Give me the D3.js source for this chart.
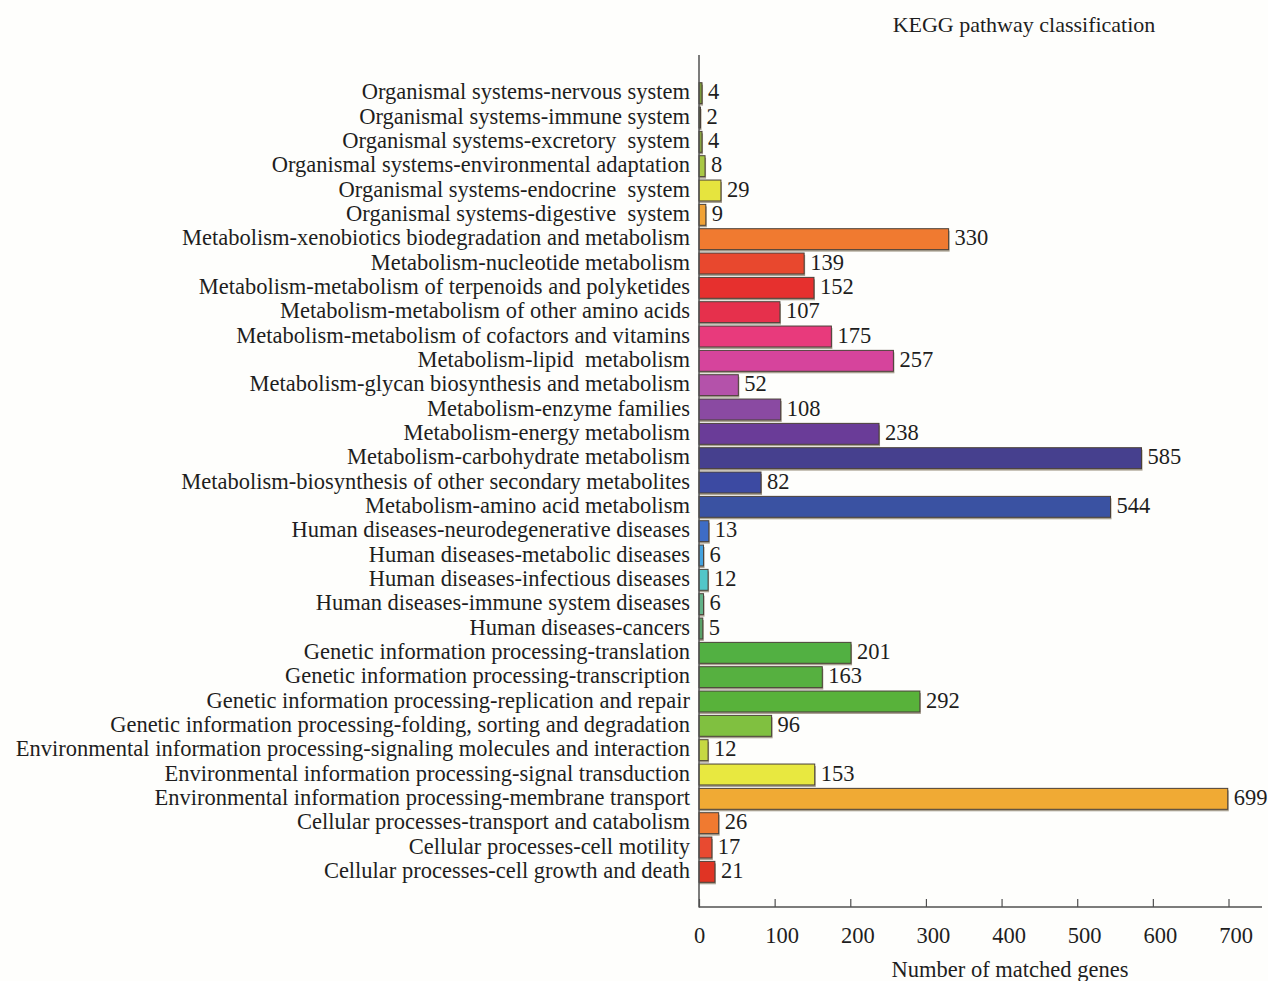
<!DOCTYPE html>
<html>
<head>
<meta charset="utf-8">
<script src="https://cdn.jsdelivr.net/npm/d3@7"></script>
<style>
  html, body { margin: 0; padding: 0; background: #fefefc; }
  svg { display: block; }
  text { font-family: "Liberation Serif", "Times New Roman", serif; fill: #1e1e1e; }
</style>
</head>
<body>
<svg id="chart" width="1268" height="981"></svg>
<script>
// KEGG pathway categories, listed top to bottom
const categories = [
  "Organismal systems-nervous system",
  "Organismal systems-immune system",
  "Organismal systems-excretory  system",
  "Organismal systems-environmental adaptation",
  "Organismal systems-endocrine  system",
  "Organismal systems-digestive  system",
  "Metabolism-xenobiotics biodegradation and metabolism",
  "Metabolism-nucleotide metabolism",
  "Metabolism-metabolism of terpenoids and polyketides",
  "Metabolism-metabolism of other amino acids",
  "Metabolism-metabolism of cofactors and vitamins",
  "Metabolism-lipid  metabolism",
  "Metabolism-glycan biosynthesis and metabolism",
  "Metabolism-enzyme families",
  "Metabolism-energy metabolism",
  "Metabolism-carbohydrate metabolism",
  "Metabolism-biosynthesis of other secondary metabolites",
  "Metabolism-amino acid metabolism",
  "Human diseases-neurodegenerative diseases",
  "Human diseases-metabolic diseases",
  "Human diseases-infectious diseases",
  "Human diseases-immune system diseases",
  "Human diseases-cancers",
  "Genetic information processing-translation",
  "Genetic information processing-transcription",
  "Genetic information processing-replication and repair",
  "Genetic information processing-folding, sorting and degradation",
  "Environmental information processing-signaling molecules and interaction",
  "Environmental information processing-signal transduction",
  "Environmental information processing-membrane transport",
  "Cellular processes-transport and catabolism",
  "Cellular processes-cell motility",
  "Cellular processes-cell growth and death"
];

// Number of matched genes per category
const geneCounts = [
  4, 2, 4, 8, 29, 9,
  330, 139, 152, 107, 175, 257, 52, 108, 238, 585, 82, 544,
  13, 6, 12, 6, 5,
  201, 163, 292, 96,
  12, 153, 699,
  26, 17, 21
];

// Fill colour per category
const barColors = [
  "#7d9a3c", "#6f8c3a", "#8aa442", "#a9c844", "#e6e43e", "#f0a236",
  "#f07a30", "#e8482e", "#e6302e", "#e6304c", "#e83a7c", "#d6449c",
  "#b452aa", "#8a4aa2", "#6a3c98", "#46408e", "#3c4aa2", "#3a52a2",
  "#3e6cc6", "#44a2de", "#52c6c8", "#62b288", "#5aa268",
  "#52b042", "#56b040", "#58b23a", "#80c040",
  "#c6d842", "#e8e840", "#f0aa34",
  "#f07a30", "#e84a30", "#e03424"
];

const xTicks = [0, 100, 200, 300, 400, 500, 600, 700];

const FONT = 22.5;

const svg = d3.select("#chart");

const x = d3.scaleLinear().domain([0, 700]).range([699, 1228.5]);
const y = d3.scaleBand().domain(categories).range([81, 884]).paddingInner(0.14).paddingOuter(0.07);

const rows = categories.map((c, i) => ({ name: c, value: geneCounts[i], color: barColors[i] }));

// shadow under each bar
svg.append("g").selectAll("rect")
  .data(rows)
  .join("rect")
  .attr("x", x(0))
  .attr("y", d => y(d.name) + 2)
  .attr("width", d => x(d.value) - x(0) + 1)
  .attr("height", y.bandwidth())
  .attr("fill", "#a8a090");

// bars
svg.append("g").selectAll("rect")
  .data(rows)
  .join("rect")
  .attr("x", x(0))
  .attr("y", d => y(d.name))
  .attr("width", d => x(d.value) - x(0))
  .attr("height", y.bandwidth())
  .attr("fill", d => d.color)
  .attr("stroke", "#4a4038")
  .attr("stroke-width", 1);

// value labels
svg.append("g").selectAll("text")
  .data(rows)
  .join("text")
  .attr("x", d => x(d.value) + 6)
  .attr("y", d => y(d.name) + y.bandwidth() / 2 + 1)
  .attr("dominant-baseline", "middle")
  .attr("font-size", FONT)
  .text(d => d.value);

// category labels
svg.append("g").selectAll("text")
  .data(rows)
  .join("text")
  .attr("x", 690)
  .attr("y", d => y(d.name) + y.bandwidth() / 2 + 1)
  .attr("text-anchor", "end")
  .attr("dominant-baseline", "middle")
  .attr("font-size", FONT)
  .style("white-space", "pre")
  .attr("xml:space", "preserve")
  .text(d => d.name);

// y axis line
svg.append("line")
  .attr("x1", x(0)).attr("x2", x(0))
  .attr("y1", 55).attr("y2", 907.5)
  .attr("stroke", "#505050").attr("stroke-width", 1.5);

// x axis with inward ticks
const xAxis = d3.axisBottom(x).tickValues(xTicks).tickSizeInner(-8).tickSizeOuter(0).tickPadding(20);
const gx = svg.append("g").attr("transform", "translate(0,907)").call(xAxis);
gx.select(".domain").attr("stroke", "#505050").attr("stroke-width", 1.5)
  .attr("d", `M${x(0)},0H1262`);
gx.selectAll(".tick line").attr("stroke", "#505050").attr("stroke-width", 1.2);
gx.selectAll(".tick text")
  .attr("font-family", "Liberation Serif, Times New Roman, serif")
  .attr("font-size", FONT)
  .attr("fill", "#1e1e1e")
  .attr("dx", d => d === 0 ? 0 : 7);

// titles
svg.append("text")
  .attr("x", 1024).attr("y", 32)
  .attr("text-anchor", "middle")
  .attr("font-size", 22)
  .text("KEGG pathway classification");

svg.append("text")
  .attr("x", 1010).attr("y", 977)
  .attr("text-anchor", "middle")
  .attr("font-size", FONT)
  .text("Number of matched genes");
</script>
</body>
</html>
